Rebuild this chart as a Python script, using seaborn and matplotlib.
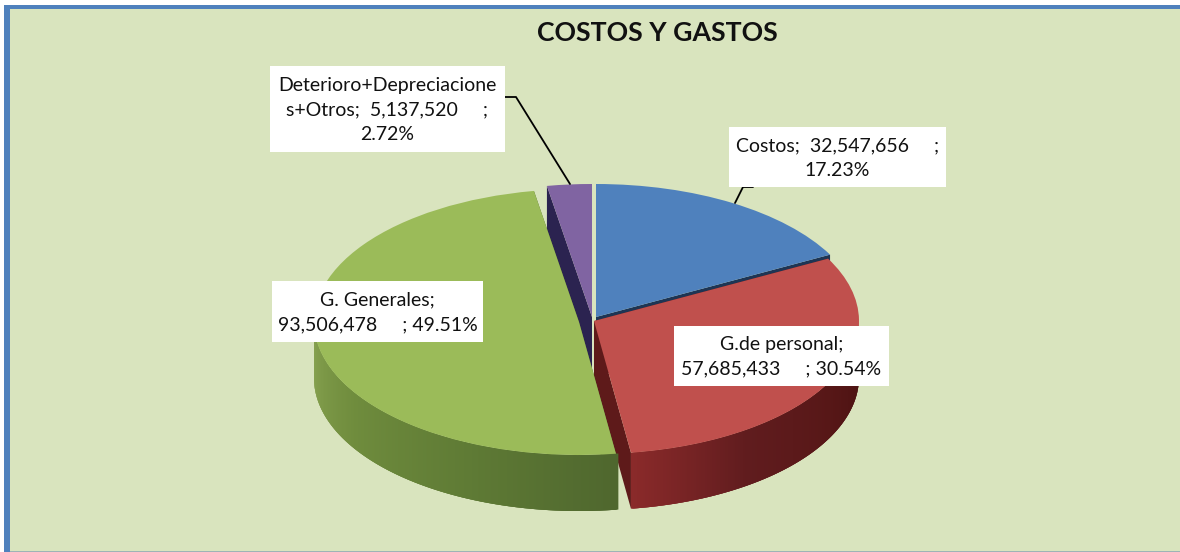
import numpy as np
import matplotlib
matplotlib.use("Agg")
import matplotlib.pyplot as plt
from matplotlib.colors import LinearSegmentedColormap, to_rgb
from matplotlib.patches import Rectangle
from matplotlib.transforms import Affine2D
import seaborn as sns

# ---- data ----
names = ["Costos", "G.de personal", "G. Generales", "Deterioro+Depreciacione\ns+Otros"]
values = [32547656, 57685433, 93506478, 5137520]
title = "COSTOS Y GASTOS"

# ---- styles ----
W, H = 1180, 552
palette = ["#4F81BD", "#C0504D", "#9BBB59", "#8064A2"]
edge_dark = ["#1E3554", "#5E1A1A", "#4F672E", "#2B2350"]
wall_stops = [None, ["#8A2A2A", "#601C1E", "#571717", "#4A1111"],
              ["#88A350", "#6F8C3D", "#5F7B35", "#4F672E"], None]
centers_px = [(596, 317), (594, 321), (579, 322), (592, 317)]
draw_order = [3, 0, 1, 2]
RX, RY, DEPTH = 265.0, 133.0, 56.0
CX, CY = 590.0, 320.0
BG = "#D9E4BE"

label_boxes = [(729, 127, 946, 187), (674, 326, 889, 386),
               (272, 281, 483, 342), (270, 66, 505, 152)]
leaders = [[(753, 187), (743, 187), (735, 203)], None, None,
           [(505, 97), (516, 97), (570, 184)]]

sns.set_theme(style="white")
plt.rcParams["font.family"] = ["Lato", "DejaVu Sans"]

fig = plt.figure(figsize=(W / 100, H / 100), dpi=100, facecolor="white")
px = Affine2D().scale(1 / W, -1 / H).translate(0, 1) + fig.transFigure

# panel + border
fig.patches.append(Rectangle((4, 5), W - 4, H - 5, transform=px, fc=BG, ec="none"))
fig.patches.append(Rectangle((4, 5), W - 4, 3.5, transform=px, fc="#4F81BD", ec="none"))
fig.patches.append(Rectangle((4, 5), 5.5, H - 5, transform=px, fc="#4F81BD", ec="none"))
fig.patches.append(Rectangle((9.5, H - 1.5), W, 1.5, transform=px, fc="#9DB4B5", ec="none"))

ax = fig.add_axes([0, 0, 1, 1])
ax.set_zorder(5)
wedges, _ = ax.pie(values, colors=palette, startangle=90, counterclock=False,
                   wedgeprops=dict(linewidth=0))
ax.set_aspect("auto")
ax.set_xlim((0 - CX) / RX, (W - CX) / RX)
ax.set_ylim((CY - H) / RY, CY / RY)
ax.patch.set_visible(False)
ax.set_axis_off()


def to_data(p):
    return (p[0] - CX) / RX, (CY - p[1]) / RY


depth = DEPTH / RY
for z, i in enumerate(draw_order):
    w = wedges[i]
    c = to_data(centers_px[i])
    w.set_center(c)
    base = 10 * (z + 1)
    w.set_zorder(base + 5)
    t1, t2 = w.theta1, w.theta2

    # radial walls on both straight edges; the top face hides the unseen one
    for t in (t1, t2):
        te = np.radians(t)
        ex, ey = c[0] + np.cos(te), c[1] + np.sin(te)
        ax.fill([c[0], ex, ex, c[0]], [c[1], ey, ey - depth, c[1] - depth],
                color=edge_dark[i], lw=0, zorder=base)

    # outer wall on the front half of the ellipse, strip by strip
    if wall_stops[i] is not None:
        cmap = LinearSegmentedColormap.from_list("w", [to_rgb(s) for s in wall_stops[i]])
        angs = np.arange(t1, t2 + 0.1, 0.25)
        angs = angs[(np.mod(angs, 360) >= 180)]
        n = len(angs) - 1
        for k in range(n):
            a, b = np.radians(angs[k]), np.radians(angs[k + 1] + 0.5)
            xs = c[0] + np.cos([a, b, b, a])
            ys = c[1] + np.sin([a, b, b, a]) - np.array([0, 0, depth, depth])
            col = cmap(k / max(n - 1, 1))
            ax.fill(xs, ys, color=col, lw=0, zorder=base + 1)

# title
fig.text(657, 33, title, transform=px, ha="center", va="center",
         fontsize=19.2, fontweight="bold", color="#111111", zorder=10)

# data labels
total = sum(values)
texts = [
    f"{names[0]};  {values[0]:,}     ;\n{values[0] / total:.2%}",
    f"{names[1]};\n{values[1]:,}     ; {values[1] / total:.2%}",
    f"{names[2]};\n{values[2]:,}     ; {values[2] / total:.2%}",
    f"{names[3]};  {values[3]:,}     ;\n{values[3] / total:.2%}",
]
for box, txt, lead in zip(label_boxes, texts, leaders):
    x0, y0, x1, y1 = box
    if lead is not None:
        ax.add_line(plt.Line2D([p[0] for p in lead], [p[1] for p in lead],
                               transform=px, color="black", lw=1.3, zorder=90))
    ax.add_patch(Rectangle((x0, y0), x1 - x0, y1 - y0, transform=px,
                           fc="white", ec="none", zorder=95))
    ax.text((x0 + x1) / 2, (y0 + y1) / 2 + 1, txt, transform=px, ha="center", va="center",
            fontsize=14, color="#111111", linespacing=1.55, zorder=96)

fig.savefig("out.png", dpi=100, facecolor="white")
